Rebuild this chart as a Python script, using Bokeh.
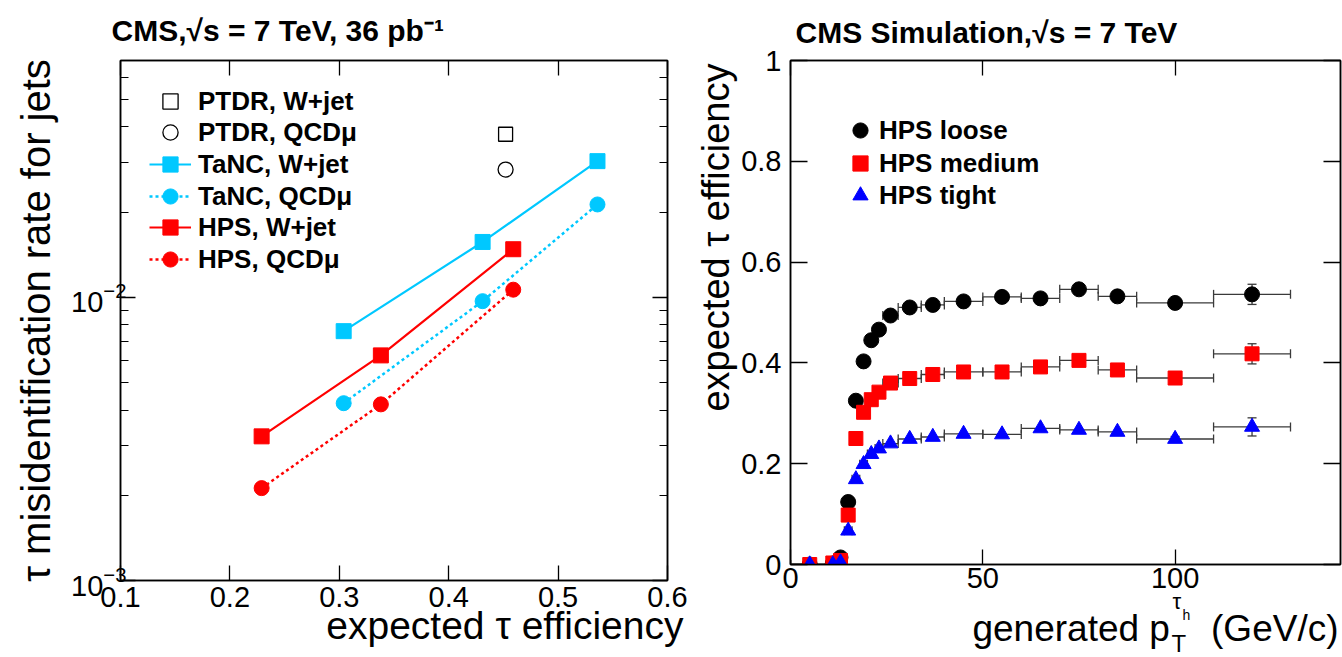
from bokeh.plotting import figure
from bokeh.layouts import row
from bokeh.models import (Range1d, FixedTicker, LinearAxis, LogAxis, Legend, LegendItem,
                          Title, Whisker, TeeHead, ColumnDataSource, CustomJSTickFormatter)
from bokeh.embed import file_html
from bokeh.resources import INLINE

# ---------------- data: left panel (fake rate vs efficiency) ----------------
ptdr_wjet_eff = [0.452]
ptdr_wjet_fake = [0.0377]
ptdr_qcd_eff = [0.452]
ptdr_qcd_fake = [0.0283]

tanc_eff = [0.304, 0.431, 0.536]
tanc_wjet_fake = [0.0076, 0.0157, 0.0303]
tanc_qcd_fake = [0.00423, 0.0097, 0.0213]

hps_eff = [0.229, 0.338, 0.459]
hps_wjet_fake = [0.00323, 0.00624, 0.0148]
hps_qcd_fake = [0.00212, 0.00419, 0.01065]

left_xticks = [0.1, 0.2, 0.3, 0.4, 0.5, 0.6]
left_yticks = [0.001, 0.01]
left_yminor = [0.002, 0.003, 0.004, 0.005, 0.006, 0.007, 0.008, 0.009,
               0.02, 0.03, 0.04, 0.05, 0.06]

# ---------------- data: right panel (efficiency vs generated pT) ----------------
pt_center = [5, 11, 13, 15, 17, 19, 21, 23, 26, 31, 37, 45, 55, 65, 75, 85, 100, 120]
pt_low = [0, 10, 12, 14, 16, 18, 20, 22, 24, 28, 34, 40, 50, 60, 70, 80, 90, 110]
pt_high = [10, 12, 14, 16, 18, 20, 22, 24, 28, 34, 40, 50, 60, 70, 80, 90, 110, 130]

eff_loose = [0.0, 0.002, 0.014, 0.124, 0.325, 0.403, 0.445, 0.466, 0.494, 0.510,
             0.515, 0.522, 0.531, 0.528, 0.546, 0.532, 0.519, 0.536]
eff_medium = [0.0, 0.003, 0.008, 0.098, 0.250, 0.302, 0.327, 0.342, 0.360, 0.369,
              0.377, 0.382, 0.382, 0.392, 0.405, 0.386, 0.370, 0.418]
eff_tight = [0.0, 0.0, 0.004, 0.067, 0.169, 0.199, 0.219, 0.230, 0.240, 0.249,
             0.253, 0.259, 0.258, 0.270, 0.267, 0.263, 0.249, 0.273]
err_loose = [0.0, 0.0, 0.0, 0.0, 0.0, 0.0, 0.0, 0.0, 0.0, 0.0,
             0.0, 0.0, 0.0, 0.0, 0.0, 0.0, 0.006, 0.020]
err_medium = [0.0, 0.0, 0.0, 0.0, 0.0, 0.0, 0.0, 0.0, 0.0, 0.0,
              0.0, 0.0, 0.0, 0.0, 0.0, 0.0, 0.006, 0.020]
err_tight = [0.0, 0.0, 0.0, 0.0, 0.0, 0.0, 0.0, 0.0, 0.0, 0.0,
             0.0, 0.0, 0.0, 0.0, 0.0, 0.0, 0.005, 0.018]

right_xticks = [0, 50, 100]
right_yticks = [0, 0.2, 0.4, 0.6, 0.8, 1.0]

FONT = "Liberation Sans"
CYAN = "#00c8ff"
RED = "#ff0000"
BLUE = "#0000ff"
BAR = "#3a3a3a"


def style_axis(ax, tick_in, minor_in=0, standoff=5, labels=True):
    ax.axis_label = None
    ax.axis_line_color = "black"
    ax.axis_line_width = 1.5
    ax.major_tick_in = tick_in
    ax.major_tick_out = 0
    ax.major_tick_line_color = "black"
    ax.major_tick_line_width = 1.3
    ax.minor_tick_in = minor_in
    ax.minor_tick_out = 0
    ax.minor_tick_line_color = "black" if minor_in else None
    ax.minor_tick_line_width = 1.2
    ax.major_label_text_font = FONT
    ax.major_label_text_font_size = "29px"
    ax.major_label_text_color = "black"
    ax.major_label_standoff = standoff
    if not labels:
        ax.formatter = CustomJSTickFormatter(code="return ''")
        ax.major_label_standoff = 0
        ax.major_label_text_font_size = "1px"


def style_fig(p, standoff, offset):
    p.xgrid.visible = False
    p.ygrid.visible = False
    p.outline_line_color = "black"
    p.outline_line_width = 1.5
    p.background_fill_color = "white"
    p.border_fill_color = "white"
    p.title.text_font = FONT
    p.title.text_font_style = "bold"
    p.title.text_font_size = "30px"
    p.title.align = "left"
    p.title.vertical_align = "middle"
    p.title.standoff = standoff
    p.title.offset = offset
    p.title.text_color = "black"


def side_title(p, place, text, size, align, offset, valign, standoff):
    p.add_layout(Title(text=text, text_font=FONT, text_font_size=size, text_font_style="normal",
                       text_color="black", align=align, offset=offset,
                       vertical_align=valign, standoff=standoff), place)


def one_legend(p, label, renderers, vx, vy, glyph_width, standoff):
    p.add_layout(Legend(items=[LegendItem(label=label, renderers=renderers)],
                        location=(vx, vy), glyph_width=glyph_width, glyph_height=38,
                        label_height=38, spacing=0, padding=0, margin=0, label_standoff=standoff,
                        label_text_font=FONT, label_text_font_style="bold",
                        label_text_font_size="26px", label_text_color="black",
                        background_fill_alpha=0, border_line_alpha=0))


# ---------------- left figure ----------------
p1 = figure(frame_width=547, frame_height=520, x_range=Range1d(0.1, 0.6),
            y_range=Range1d(0.001, 0.0687), y_axis_type="log",
            output_backend="svg", toolbar_location=None,
            min_border_left=120, min_border_right=23, min_border_top=60, min_border_bottom=77,
            title="CMS,\u221as = 7 TeV, 36 pb\u207b\u00b9")
style_fig(p1, 25, -9)

p1.xaxis.ticker = FixedTicker(ticks=left_xticks)
p1.yaxis.ticker = FixedTicker(ticks=left_yticks, minor_ticks=left_yminor)
style_axis(p1.xaxis[0], 15, standoff=6)
style_axis(p1.yaxis[0], 15, minor_in=8, standoff=-6)

top1 = LinearAxis(ticker=FixedTicker(ticks=left_xticks))
style_axis(top1, 15, labels=False)
p1.add_layout(top1, "above")
right1 = LogAxis(ticker=FixedTicker(ticks=left_yticks, minor_ticks=left_yminor))
style_axis(right1, 15, minor_in=8, labels=False)
p1.add_layout(right1, "right")

r_tw_l = p1.line(tanc_eff, tanc_wjet_fake, line_color=CYAN, line_width=2.2)
r_tw_p = p1.scatter(tanc_eff, tanc_wjet_fake, marker="square", size=15, fill_color=CYAN, line_color=CYAN)
r_tq_l = p1.line(tanc_eff, tanc_qcd_fake, line_color=CYAN, line_width=2.5, line_dash="3 3")
r_tq_p = p1.scatter(tanc_eff, tanc_qcd_fake, marker="circle", size=15, fill_color=CYAN, line_color=CYAN)
r_hw_l = p1.line(hps_eff, hps_wjet_fake, line_color=RED, line_width=2.2)
r_hw_p = p1.scatter(hps_eff, hps_wjet_fake, marker="square", size=15, fill_color=RED, line_color=RED)
r_hq_l = p1.line(hps_eff, hps_qcd_fake, line_color=RED, line_width=2.5, line_dash="3 3")
r_hq_p = p1.scatter(hps_eff, hps_qcd_fake, marker="circle", size=15, fill_color=RED, line_color=RED)
r_pw = p1.scatter(ptdr_wjet_eff, ptdr_wjet_fake, marker="square", size=14, fill_color=None,
                  line_color="black", line_width=1.3)
r_pq = p1.scatter(ptdr_qcd_eff, ptdr_qcd_fake, marker="circle", size=15, fill_color=None,
                  line_color="black", line_width=1.3)

left_entries = [
    ("PTDR, W+jet", [r_pw]),
    ("PTDR, QCD\u03bc", [r_pq]),
    ("TaNC, W+jet", [r_tw_l, r_tw_p]),
    ("TaNC, QCD\u03bc", [r_tq_l, r_tq_p]),
    ("HPS, W+jet", [r_hw_l, r_hw_p]),
    ("HPS, QCD\u03bc", [r_hq_l, r_hq_p]),
]
for i, (lab, rends) in enumerate(left_entries):
    one_legend(p1, lab, rends, 29, round(460.3 - 31.66 * i), 42, 7)

side_title(p1, "left", "\u03c4 misidentification rate for jets", "40px", "center", 0, "bottom", 21)
side_title(p1, "below", "expected \u03c4 efficiency", "39px", "right", -16, "top", -11)

# ---------------- right figure ----------------
p2 = figure(frame_width=550, frame_height=504, x_range=Range1d(0, 143), y_range=Range1d(0, 1),
            output_backend="svg", toolbar_location=None,
            min_border_left=100, min_border_right=2, min_border_top=57, min_border_bottom=96,
            title="CMS Simulation,\u221as = 7 TeV")
style_fig(p2, 22, 5)

p2.xaxis.ticker = FixedTicker(ticks=right_xticks)
p2.yaxis.ticker = FixedTicker(ticks=right_yticks)
p2.yaxis.formatter = CustomJSTickFormatter(code="return String(Math.round(tick * 10) / 10)")
style_axis(p2.xaxis[0], 15, standoff=3)
style_axis(p2.yaxis[0], 17, standoff=9)

top2 = LinearAxis(ticker=FixedTicker(ticks=right_xticks))
style_axis(top2, 15, labels=False)
p2.add_layout(top2, "above")
right2 = LinearAxis(ticker=FixedTicker(ticks=right_yticks))
style_axis(right2, 17, labels=False)
p2.add_layout(right2, "right")

series = [
    ("HPS loose", eff_loose, err_loose, "circle", 15, "black"),
    ("HPS medium", eff_medium, err_medium, "square", 14, RED),
    ("HPS tight", eff_tight, err_tight, "triangle", 15, BLUE),
]
for i, (name, eff, err, marker, size, color) in enumerate(series):
    src = ColumnDataSource(dict(
        x=pt_center, y=eff, lo=pt_low, hi=pt_high,
        ylo=[v - e for v, e in zip(eff, err)], yhi=[v + e for v, e in zip(eff, err)]))
    p2.add_layout(Whisker(source=src, base="y", lower="lo", upper="hi", dimension="width",
                          line_color=BAR, line_width=1.3,
                          lower_head=TeeHead(size=9, line_color=BAR, line_width=1.3),
                          upper_head=TeeHead(size=9, line_color=BAR, line_width=1.3)))
    p2.add_layout(Whisker(source=src, base="x", lower="ylo", upper="yhi", dimension="height",
                          line_color=BAR, line_width=1.3,
                          lower_head=TeeHead(size=9, line_color=BAR, line_width=1.3),
                          upper_head=TeeHead(size=9, line_color=BAR, line_width=1.3)))
    r = p2.scatter("x", "y", source=src, marker=marker, size=size,
                   fill_color=color, line_color=color)
    one_legend(p2, name, [r], 51, round(415 - 32.5 * i), 38, 0)

side_title(p2, "left", "expected \u03c4 efficiency", "38px", "right", 3, "bottom", 4)
# x-axis title: generated p_T^{tau_h} (GeV/c), assembled from pieces
side_title(p2, "below", "\u03c4", "22px", "left", 382, "top", -3)
side_title(p2, "below", "h", "14px", "left", 392, "top", -15)
side_title(p2, "below", "generated p\u00a0\u00a0\u00a0\u00a0(GeV/c)", "37px", "right", 2, "top", -20)
side_title(p2, "below", "T", "24px", "left", 381, "top", -22)

layout = row(p1, p2)
open("out.html", "w").write(file_html(layout, INLINE))
